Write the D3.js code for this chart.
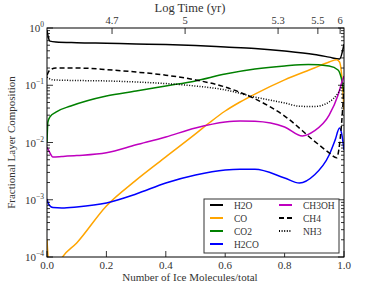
<!DOCTYPE html>
<html>
<head>
<meta charset="utf-8">
<script src="https://cdn.jsdelivr.net/npm/d3@7"></script>
<style>
  body { margin: 0; background: #fff; }
</style>
</head>
<body>
<div id="chart"></div>
<script>
// values: [fraction of ice molecules, layer fraction]
var h2o = [[0,0.92],[0.005,0.67],[0.01,0.59],[0.03,0.57],[0.1,0.553],[0.2,0.54],[0.3,0.526],[0.4,0.515],
  [0.5,0.495],[0.6,0.466],[0.7,0.438],[0.8,0.397],[0.9,0.345],[0.95,0.31],[0.985,0.287],[1.0,0.52]]
var co = [[0,2e-4],[0.006,8e-5],[0.03,6e-5],[0.05,9.6e-5],[0.1,1.76e-4],[0.2,7.8e-4],[0.3,2.2e-3],[0.4,5.6e-3],
  [0.5,0.0141],[0.55,0.0228],[0.6,0.0355],[0.65,0.051],[0.7,0.070],[0.8,0.124],[0.9,0.2],[0.95,0.255],
  [0.975,0.28],[0.985,0.255],[0.995,0.1],[1.0,0.037]]
var co2 = [[0,0.0102],[0.003,0.0228],[0.01,0.028],[0.03,0.034],[0.08,0.0434],[0.2,0.065],[0.3,0.079],[0.4,0.097],
  [0.5,0.119],[0.6,0.157],[0.7,0.192],[0.8,0.217],[0.88,0.23],[0.95,0.217],[0.98,0.185],[0.99,0.139],[1.0,0.076]]
var h2co = [[0,1.03e-3],[0.005,8.5e-4],[0.02,7.3e-4],[0.05,7.2e-4],[0.1,7.5e-4],[0.2,8.8e-4],[0.3,1.26e-3],
  [0.4,1.96e-3],[0.5,2.7e-3],[0.6,3.3e-3],[0.65,3.4e-3],[0.7,3.4e-3],[0.8,2.4e-3],[0.85,1.96e-3],[0.9,2.7e-3],
  [0.95,6.05e-3],[0.97,0.011],[0.985,0.0179],[0.993,0.0135],[1.0,0.0074]]
var ch3oh = [[0,0.0083],[0.005,0.0074],[0.02,0.0056],[0.05,0.0057],[0.1,0.0059],[0.2,0.0066],[0.3,0.0091],
  [0.4,0.0125],[0.5,0.0179],[0.6,0.0228],[0.65,0.0238],[0.7,0.0235],[0.8,0.0187],[0.86,0.013],[0.9,0.0159],
  [0.95,0.030],[0.98,0.0675],[0.993,0.114],[1.0,0.145]]
var ch4 = [[0,0.15],[0.01,0.185],[0.03,0.2],[0.1,0.2],[0.2,0.188],[0.3,0.17],[0.4,0.15],[0.5,0.124],[0.6,0.093],
  [0.7,0.058],[0.8,0.029],[0.9,0.0106],[0.95,0.0066],[0.975,0.0054],[0.99,0.0165],[1.0,0.089]]
var nh3 = [[0,0.139],[0.02,0.124],[0.1,0.121],[0.2,0.119],[0.3,0.114],[0.4,0.107],[0.5,0.097],[0.6,0.083],
  [0.7,0.062],[0.8,0.049],[0.85,0.043],[0.9,0.0425],[0.95,0.051],[0.98,0.073],[1.0,0.114]]

var xTicks = [0, 0.2, 0.4, 0.6, 0.8, 1.0]
var yTicks = [1e-4, 1e-3, 1e-2, 1e-1, 1]
var topTickPos = [0.219, 0.465, 0.778, 0.912, 0.987]
var topTickLabels = ['4.7', '5', '5.3', '5.5', '6']

var series = [
  {name: 'H2O', data: h2o, color: '#000000', dash: null},
  {name: 'CO', data: co, color: '#ffa500', dash: null},
  {name: 'CO2', data: co2, color: '#008000', dash: null},
  {name: 'H2CO', data: h2co, color: '#0000ff', dash: null},
  {name: 'CH3OH', data: ch3oh, color: '#bf00bf', dash: null},
  {name: 'CH4', data: ch4, color: '#000000', dash: '5,3'},
  {name: 'NH3', data: nh3, color: '#000000', dash: '1,1.6'}
]

var width = 382, height = 287
var pLeft = 47, pRight = 344, pTop = 28, pBottom = 257
var serif = "'Liberation Serif', 'Times New Roman', serif"

var svg = d3.select('#chart').append('svg')
  .attr('width', width).attr('height', height)
  .attr('font-family', serif)

var x = d3.scaleLinear().domain([0, 1]).range([pLeft, pRight])
var y = d3.scaleLog().domain([1e-4, 1]).range([pBottom, pTop])

svg.append('clipPath').attr('id', 'clip')
  .append('rect').attr('x', pLeft).attr('y', pTop).attr('width', pRight - pLeft).attr('height', pBottom - pTop)

var line = d3.line()
  .x(function(d) { return x(d[0]) })
  .y(function(d) { return y(d[1]) })
  .curve(d3.curveMonotoneX)

var plot = svg.append('g').attr('clip-path', 'url(#clip)')
series.forEach(function(s) {
  plot.append('path')
    .datum(s.data)
    .attr('d', line)
    .attr('fill', 'none')
    .attr('stroke', s.color)
    .attr('stroke-width', 1.5)
    .attr('stroke-dasharray', s.dash)
})

// frame
svg.append('rect')
  .attr('x', pLeft).attr('y', pTop).attr('width', pRight - pLeft).attr('height', pBottom - pTop)
  .attr('fill', 'none').attr('stroke', '#000').attr('stroke-width', 1)

// y ticks (major + minor), inward, both sides
var minor = []
for (var e = -4; e < 0; e++) {
  for (var m = 2; m < 10; m++) minor.push(m * Math.pow(10, e))
}
var ax = svg.append('g').attr('stroke', '#000').attr('stroke-width', 0.8)
yTicks.forEach(function(v) {
  ax.append('line').attr('x1', pLeft).attr('x2', pLeft + 6).attr('y1', y(v)).attr('y2', y(v))
  ax.append('line').attr('x1', pRight).attr('x2', pRight - 6).attr('y1', y(v)).attr('y2', y(v))
})
minor.forEach(function(v) {
  ax.append('line').attr('x1', pLeft).attr('x2', pLeft + 3).attr('y1', y(v)).attr('y2', y(v))
  ax.append('line').attr('x1', pRight).attr('x2', pRight - 3).attr('y1', y(v)).attr('y2', y(v))
})
xTicks.forEach(function(v) {
  ax.append('line').attr('x1', x(v)).attr('x2', x(v)).attr('y1', pBottom).attr('y2', pBottom - 6)
})
topTickPos.forEach(function(v) {
  ax.append('line').attr('x1', x(v)).attr('x2', x(v)).attr('y1', pTop).attr('y2', pTop + 6)
})

// tick labels
yTicks.forEach(function(v) {
  var t = svg.append('text')
    .attr('x', pLeft - 3).attr('y', y(v) + 4)
    .attr('text-anchor', 'end').attr('font-size', 11).attr('fill', '#333')
  t.append('tspan').text('10')
  t.append('tspan').attr('dy', -5).attr('font-size', 7.5)
    .text(String(Math.round(Math.log10(v))).replace('-', '\u2212'))
})
xTicks.forEach(function(v) {
  svg.append('text')
    .attr('x', x(v)).attr('y', pBottom + 12)
    .attr('text-anchor', 'middle').attr('font-size', 11).attr('fill', '#333')
    .text(v.toFixed(1))
})
topTickPos.forEach(function(v, i) {
  svg.append('text')
    .attr('x', x(v)).attr('y', pTop - 4)
    .attr('text-anchor', 'middle').attr('font-size', 10.5).attr('fill', '#333')
    .text(topTickLabels[i])
})

// axis titles
svg.append('text').attr('x', 190).attr('y', 12)
  .attr('text-anchor', 'middle').attr('font-size', 12.5).attr('fill', '#333').text('Log Time (yr)')
svg.append('text').attr('x', 190).attr('y', 281)
  .attr('text-anchor', 'middle').attr('font-size', 11).attr('fill', '#333').text('Number of Ice Molecules/total')
svg.append('text')
  .attr('transform', 'translate(15,' + ((pTop + pBottom) / 2) + ') rotate(-90)')
  .attr('text-anchor', 'middle').attr('font-size', 11).attr('fill', '#333').text('Fractional Layer Composition')

// legend
var lg = svg.append('g')
lg.append('rect').attr('x', 204).attr('y', 199).attr('width', 135).attr('height', 54)
  .attr('fill', '#fff').attr('stroke', '#333').attr('stroke-width', 1)
series.forEach(function(s, i) {
  var col = i < 4 ? 0 : 1
  var row = i < 4 ? i : i - 4
  var lx = col === 0 ? 210 : 279
  var ly = 205 + row * 13
  lg.append('line').attr('x1', lx).attr('x2', lx + 13).attr('y1', ly).attr('y2', ly)
    .attr('stroke', s.color).attr('stroke-width', 2).attr('stroke-dasharray', s.dash)
  lg.append('text').attr('x', lx + 24).attr('y', ly + 3.5)
    .attr('font-size', 9.5).attr('fill', '#333').text(s.name)
})
</script>
</body>
</html>
